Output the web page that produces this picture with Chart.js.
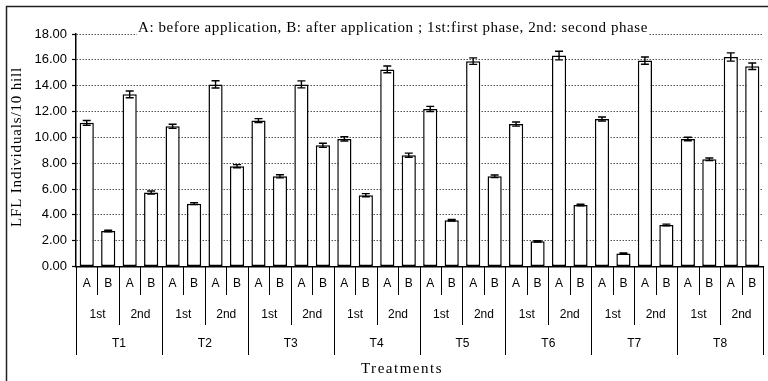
<!DOCTYPE html>
<html>
<head>
<meta charset="utf-8">
<script src="https://cdn.jsdelivr.net/npm/chart.js@4"></script>
<style>
html,body{margin:0;padding:0;background:#fff;}
canvas{display:block;}
</style>
</head>
<body>
<canvas id="c" width="768" height="381"></canvas>
<script>
const treatments = ['T1','T2','T3','T4','T5','T6','T7','T8'];
const phases = ['1st','2nd'];
const conditions = ['A','B'];
const yTicks = [0,2,4,6,8,10,12,14,16,18];

const firstA  = [11.12, 10.85, 11.30, 9.88, 12.20, 11.03, 11.42, 9.87];
const firstB  = [2.75, 4.86, 6.98, 5.52, 3.58, 1.95, 1.00, 8.30];
const secondA = [13.33, 14.10, 14.10, 15.26, 15.90, 16.33, 15.94, 16.22];
const secondB = [5.72, 7.77, 9.38, 8.62, 6.98, 4.76, 3.22, 15.50];

const firstAErr  = [0.18, 0.16, 0.15, 0.16, 0.20, 0.16, 0.15, 0.14];
const firstBErr  = [0.06, 0.07, 0.12, 0.12, 0.06, 0.05, 0.05, 0.10];
const secondAErr = [0.26, 0.28, 0.27, 0.26, 0.25, 0.33, 0.28, 0.32];
const secondBErr = [0.12, 0.12, 0.16, 0.16, 0.10, 0.06, 0.06, 0.25];

const titleText = 'A: before application, B: after application ; 1st:first phase, 2nd: second phase';
const yTitle = 'LFL Individuals/10 hill';
const xTitle = 'Treatments';

// Build flat arrays
const labels = [], values = [], errs = [];
treatments.forEach((t, ti) => {
  const groups = [[firstA, firstAErr, firstB, firstBErr], [secondA, secondAErr, secondB, secondBErr]];
  groups.forEach((g, pi) => {
    labels.push(t + ' ' + phases[pi] + ' ' + conditions[0]); values.push(g[0][ti]); errs.push(g[1][ti]);
    labels.push(t + ' ' + phases[pi] + ' ' + conditions[1]); values.push(g[2][ti]); errs.push(g[3][ti]);
  });
});

const SANS = '"Liberation Sans", Arial, sans-serif';
const SERIF = '"Liberation Serif", "Times New Roman", serif';

function fitText(ctx, text, fontPx, targetW) {
  ctx.font = fontPx + 'px ' + SERIF;
  ctx.letterSpacing = '0px';
  const w = ctx.measureText(text).width;
  const sp = Math.max(0, (targetW - w) / text.length);
  ctx.letterSpacing = sp.toFixed(2) + 'px';
}

const decor = {
  id: 'decor',
  afterDraw(chart) {
    const ctx = chart.ctx;
    const xs = chart.scales.x, ys = chart.scales.y;
    const meta = chart.getDatasetMeta(0);
    ctx.save();
    // error bars
    ctx.strokeStyle = '#000';
    ctx.lineWidth = 1.4;
    meta.data.forEach((bar, i) => {
      const x = bar.x;
      const yt = ys.getPixelForValue(values[i] + errs[i]);
      const yb = ys.getPixelForValue(values[i] - errs[i]);
      ctx.beginPath();
      ctx.moveTo(x, yt); ctx.lineTo(x, yb);
      ctx.moveTo(x - 4, yt); ctx.lineTo(x + 4, yt);
      ctx.moveTo(x - 4, yb); ctx.lineTo(x + 4, yb);
      ctx.stroke();
    });
    // category separators
    const step = xs.getPixelForValue(1) - xs.getPixelForValue(0);
    const axisY = ys.getPixelForValue(0);
    ctx.lineWidth = 1;
    for (let k = 0; k <= labels.length; k++) {
      const x = Math.round(xs.getPixelForValue(0) - step / 2 + k * step) + 0.5;
      let end = 295;
      if (k % 4 === 0) end = 355; else if (k % 2 === 0) end = 325;
      ctx.beginPath();
      ctx.moveTo(x, axisY); ctx.lineTo(x, end);
      ctx.stroke();
    }
    // labels
    ctx.fillStyle = '#000';
    ctx.textAlign = 'center';
    ctx.textBaseline = 'middle';
    ctx.font = '12px ' + SANS;
    for (let i = 0; i < labels.length; i++) {
      ctx.fillText(conditions[i % 2], xs.getPixelForValue(i), 284);
    }
    for (let j = 0; j < labels.length / 2; j++) {
      const x = (xs.getPixelForValue(2 * j) + xs.getPixelForValue(2 * j + 1)) / 2;
      ctx.fillText(phases[j % 2], x, 315);
    }
    for (let t = 0; t < treatments.length; t++) {
      const x = (xs.getPixelForValue(4 * t) + xs.getPixelForValue(4 * t + 3)) / 2;
      ctx.fillText(treatments[t], x, 344);
    }
    fitText(ctx, xTitle, 15, 82);
    ctx.fillText(xTitle, 402, 369);
    // y title
    ctx.save();
    ctx.translate(17, 147);
    ctx.rotate(-Math.PI / 2);
    fitText(ctx, yTitle, 15, 160);
    ctx.fillText(yTitle, 0, 0);
    ctx.restore();
    // chart title with white background
    fitText(ctx, titleText, 15, 510);
    const w = ctx.measureText(titleText).width;
    const tx = 393;
    ctx.fillStyle = '#fff';
    ctx.fillRect(tx - w / 2 - 1, 14, w + 2, 22);
    ctx.fillStyle = '#000';
    ctx.textBaseline = 'alphabetic';
    ctx.fillText(titleText, tx, 32);
    ctx.letterSpacing = '0px';
    // outer frame
    ctx.strokeStyle = '#222';
    ctx.lineWidth = 1.5;
    ctx.strokeRect(6.5, 6.5, 800, 400);
    ctx.restore();
  }
};

new Chart(document.getElementById('c'), {
  type: 'bar',
  data: {
    labels: labels,
    datasets: [{
      data: values,
      backgroundColor: '#ffffff',
      borderColor: '#000000',
      borderWidth: 1.5,
      borderSkipped: false,
      categoryPercentage: 0.66,
      barPercentage: 1.0
    }]
  },
  options: {
    responsive: false,
    animation: false,
    layout: { padding: { left: 0, top: 34, right: 5, bottom: 0 } },
    plugins: { legend: { display: false }, tooltip: { enabled: false }, title: { display: false } },
    scales: {
      x: {
        ticks: { display: false },
        grid: { display: false },
        border: { display: true, color: '#000', width: 1.5 },
        afterFit(s) { s.height = 114.5; }
      },
      y: {
        min: 0, max: 18,
        afterBuildTicks(s) { s.ticks = yTicks.map(v => ({ value: v })); },
        ticks: {
          callback: v => Number(v).toFixed(2),
          font: { family: SANS, size: 13 },
          color: '#000',
          padding: 5
        },
        grid: {
          color: '#555',
          lineWidth: 1,
          drawTicks: true,
          tickLength: 4,
          tickColor: '#000',
          tickWidth: 1.2,
          tickBorderDash: []
        },
        border: { display: true, color: '#000', width: 1.5, dash: [1.5, 1.5] },
        afterFit(s) { s.width = 76; }
      }
    }
  },
  plugins: [decor]
});
</script>
</body>
</html>
